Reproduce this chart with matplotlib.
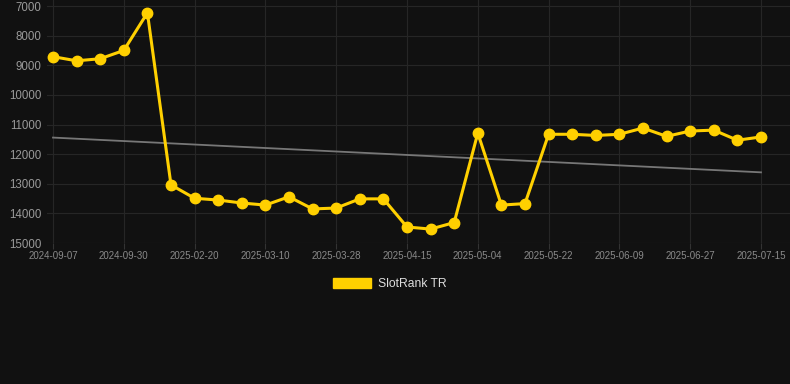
import numpy as np
import matplotlib
matplotlib.use("Agg")
import matplotlib.pyplot as plt
from matplotlib.patches import Patch

plt.rcParams['font.family'] = ['Liberation Sans', 'DejaVu Sans']

dates = ["2024-09-07", "2024-09-14", "2024-09-21", "2024-09-30", "2024-10-07",
         "2025-02-14", "2025-02-20", "2025-02-26", "2025-03-04", "2025-03-10",
         "2025-03-16", "2025-03-22", "2025-03-28", "2025-04-03", "2025-04-09",
         "2025-04-15", "2025-04-21", "2025-04-27", "2025-05-04", "2025-05-10",
         "2025-05-16", "2025-05-22", "2025-05-28", "2025-06-03", "2025-06-09",
         "2025-06-15", "2025-06-21", "2025-06-27", "2025-07-03", "2025-07-09",
         "2025-07-15"]
ranks = [8710, 8850, 8780, 8500, 7230,
         13040, 13490, 13550, 13650, 13720,
         13440, 13850, 13820, 13510, 13510,
         14460, 14530, 14310, 11290, 13720,
         13670, 11330, 11330, 11370, 11330,
         11120, 11400, 11220, 11190, 11530,
         11420]
series_name = "SlotRank TR"
yticks = [7000, 8000, 9000, 10000, 11000, 12000, 13000, 14000, 15000]

x = np.arange(len(dates))
coef = np.polyfit(x, ranks, 1)
trend = np.polyval(coef, x)

bg = "#111111"
fig = plt.figure(figsize=(7.9, 3.84), dpi=100, facecolor=bg)
ax = fig.add_axes([47/790, 1 - 243/384, 1 - 47/790, 243/384])
ax.set_facecolor(bg)

ax.plot(x, trend, color="#777777", lw=1.3, zorder=2)
ax.plot(x, ranks, color="#FFD000", lw=2.2, marker="o", markersize=7.5,
        markerfacecolor="#FFD000", markeredgecolor="#FFD000", zorder=3)

ax.set_xlim(-6/23.6, 30 + 29/23.6)
ax.set_ylim(15000, 7000 - 6/29.6*1000)
ax.set_yticks(yticks)
ax.set_yticklabels([str(v) for v in yticks])
tick_idx = x[::3]
ax.set_xticks(tick_idx)
ax.set_xticklabels([dates[i] for i in tick_idx])

ax.grid(True, color="#262626", lw=0.8)
ax.set_axisbelow(True)
for s in ax.spines.values():
    s.set_visible(False)
ax.tick_params(axis='y', length=0, pad=4, labelsize=8.3, labelcolor="#9a9a9a")
ax.tick_params(axis='x', length=4, width=0.8, color="#333333", pad=2,
               labelsize=7, labelcolor="#8a8a8a")

leg = fig.legend(handles=[Patch(facecolor="#FFD000", edgecolor="#FFD000")],
                 labels=[series_name], loc="center",
                 bbox_to_anchor=(0.493, 1 - 284/384), frameon=False,
                 fontsize=8.7, handlelength=3.2, handleheight=0.95,
                 handletextpad=0.5, labelcolor="#dddddd")

fig.savefig("out.png", dpi=100, facecolor=bg)
